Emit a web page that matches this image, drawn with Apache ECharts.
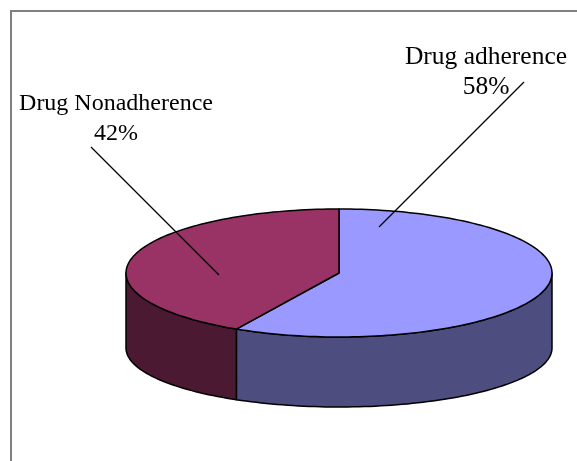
<!DOCTYPE html>
<html>
<head>
<meta charset="utf-8">
<script src="https://cdn.jsdelivr.net/npm/echarts@6/dist/echarts.min.js"></script>
<style>
html,body{margin:0;padding:0;background:#fff;}
#chart{width:577px;height:461px;}
</style>
</head>
<body>
<div id="chart"></div>
<script>
// ---- data ----
const categories = ['Drug adherence', 'Drug Nonadherence'];
const values = [58, 42];
const topColors = ['#9999FF', '#993366'];
const sideColors = ['#4D4D7F', '#4C1933'];

// ---- layout (pixels) ----
const CX = 339, CY = 273, RX = 213, RY = 64;
const DEPTH = 75, RY_BOTTOM = 59;
// label anchor (text block centre) and leader line, relative to pie centre
const labelLayout = [
  { tx: 147, ty: -201, lsx: 40, lsy: -46, lex: 185, ley: -191, size: 25.5 },
  { tx: -223, ty: -154, lsx: -120, lsy: 2, lex: -248, ley: -126, size: 24 }
];
const FONT_FAMILY = '"Liberation Serif", "Times New Roman", serif';

const total = values.reduce((a, b) => a + b, 0);
function sliceAngles(i) {
  let s = 0;
  for (let k = 0; k < i; k++) s += values[k];
  return [s / total * 360, (s + values[i]) / total * 360];
}
function topPt(deg) {
  const r = deg * Math.PI / 180;
  return [CX + RX * Math.sin(r), CY - RY * Math.cos(r)];
}
function botPt(deg) {
  const r = deg * Math.PI / 180;
  return [CX + RX * Math.sin(r), CY + DEPTH - RY_BOTTOM * Math.cos(r)];
}
function arc(fn, a0, a1) {
  const pts = [];
  const n = Math.max(2, Math.ceil(Math.abs(a1 - a0) / 1.5));
  for (let j = 0; j <= n; j++) pts.push(fn(a0 + (a1 - a0) * j / n));
  return pts;
}

const chart = echarts.init(document.getElementById('chart'), null, { renderer: 'canvas' });
const seriesData = categories.map((c, i) => ({ name: c, value: values[i] }));

chart.setOption({
  backgroundColor: '#ffffff',
  animation: false,
  graphic: [{
    type: 'rect', z: 0, silent: true,
    shape: { x: 11, y: 11, width: 700, height: 600 },
    style: { fill: 'none', stroke: '#808080', lineWidth: 2 }
  }],
  series: [
    {
      // outer side walls (front half only)
      type: 'custom', coordinateSystem: 'none', z: 2,
      data: seriesData,
      renderItem: function (params, api) {
        const i = params.dataIndex;
        const [a0, a1] = sliceAngles(i);
        const s = Math.max(a0, 90), e = Math.min(a1, 270);
        if (e <= s) return { type: 'group', children: [] };
        const pts = arc(topPt, s, e).concat(arc(botPt, e, s));
        return {
          type: 'polygon',
          shape: { points: pts },
          style: { fill: sideColors[i], stroke: '#000', lineWidth: 1.5, lineJoin: 'round' }
        };
      }
    },
    {
      // top faces, leader lines and labels
      type: 'custom', coordinateSystem: 'none', z: 3,
      data: seriesData,
      renderItem: function (params, api) {
        const i = params.dataIndex;
        const [a0, a1] = sliceAngles(i);
        const pts = [[CX, CY]].concat(arc(topPt, a0, a1));
        const L = labelLayout[i];
        const pct = Math.round(api.value(0) / total * 100) + '%';
        return {
          type: 'group',
          children: [
            {
              type: 'polygon',
              shape: { points: pts },
              style: { fill: topColors[i], stroke: '#000', lineWidth: 1.5, lineJoin: 'round' }
            },
            {
              type: 'line', z2: 5,
              shape: { x1: CX + L.lsx, y1: CY + L.lsy, x2: CX + L.lex, y2: CY + L.ley },
              style: { stroke: '#000', lineWidth: 1.2 }
            },
            {
              type: 'text', z2: 6,
              style: {
                text: categories[i] + '\n' + pct,
                x: CX + L.tx, y: CY + L.ty,
                align: 'center', verticalAlign: 'middle',
                font: L.size + 'px ' + FONT_FAMILY, lineHeight: 30, fill: '#000'
              }
            }
          ]
        };
      }
    }
  ]
});
</script>
</body>
</html>
